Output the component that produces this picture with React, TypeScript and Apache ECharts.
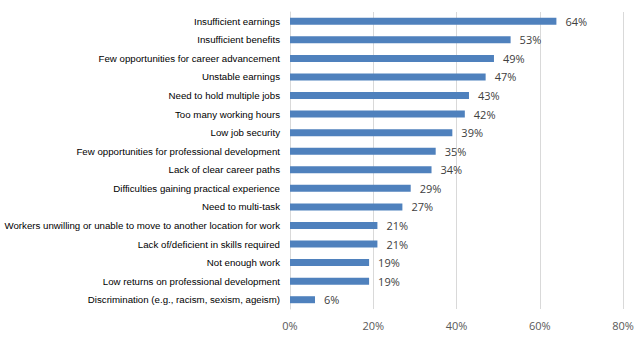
import React, { useEffect, useRef } from "react";
import * as echarts from "echarts";

const categories = [
  "Insufficient earnings",
  "Insufficient benefits",
  "Few opportunities for career advancement",
  "Unstable earnings",
  "Need to hold multiple jobs",
  "Too many working hours",
  "Low job security",
  "Few opportunities for professional development",
  "Lack of clear career paths",
  "Difficulties gaining practical experience",
  "Need to multi-task",
  "Workers unwilling or unable to move to another location for work",
  "Lack of/deficient in skills required",
  "Not enough work",
  "Low returns on professional development",
  "Discrimination (e.g., racism, sexism, ageism)",
];
const values = [64, 53, 49, 47, 43, 42, 39, 35, 34, 29, 27, 21, 21, 19, 19, 6];
const xTicks = [0, 20, 40, 60, 80];

export default function App() {
  const ref = useRef<HTMLDivElement>(null);
  useEffect(() => {
    if (!ref.current) return;
    const chart = echarts.init(ref.current, null, { renderer: "svg" });
    chart.setOption({
      animation: false,
      grid: { left: 290, right: 17, top: 12, bottom: 29 },
      xAxis: {
        type: "value",
        min: xTicks[0],
        max: xTicks[xTicks.length - 1],
        interval: 20,
        axisLine: { show: false },
        axisTick: { show: false },
        splitLine: { show: true, lineStyle: { color: "#d9d9d9", width: 1 } },
        axisLabel: {
          formatter: (v: number) => v + "%",
          color: "#595959",
          fontSize: 11,
          fontFamily: "Open Sans",
          margin: 11,
        },
      },
      yAxis: {
        type: "category",
        inverse: true,
        data: categories,
        axisLine: { show: true, lineStyle: { color: "#d9d9d9" } },
        axisTick: { show: false },
        axisLabel: {
          color: "#000",
          fontSize: 9.7,
          fontFamily: "Liberation Sans",
          margin: 10,
        },
      },
      series: [
        {
          type: "bar",
          data: values,
          barWidth: 7,
          itemStyle: { color: "#4f81bd" },
          label: {
            show: true,
            position: "right",
            distance: 9,
            formatter: (p: any) => p.value + "%",
            color: "#404040",
            fontSize: 11,
            fontFamily: "Open Sans",
          },
        },
      ],
    });
    return () => chart.dispose();
  }, []);
  return <div ref={ref} style={{ width: 640, height: 338, position: "absolute", left: 0, top: 0 }} />;
}
